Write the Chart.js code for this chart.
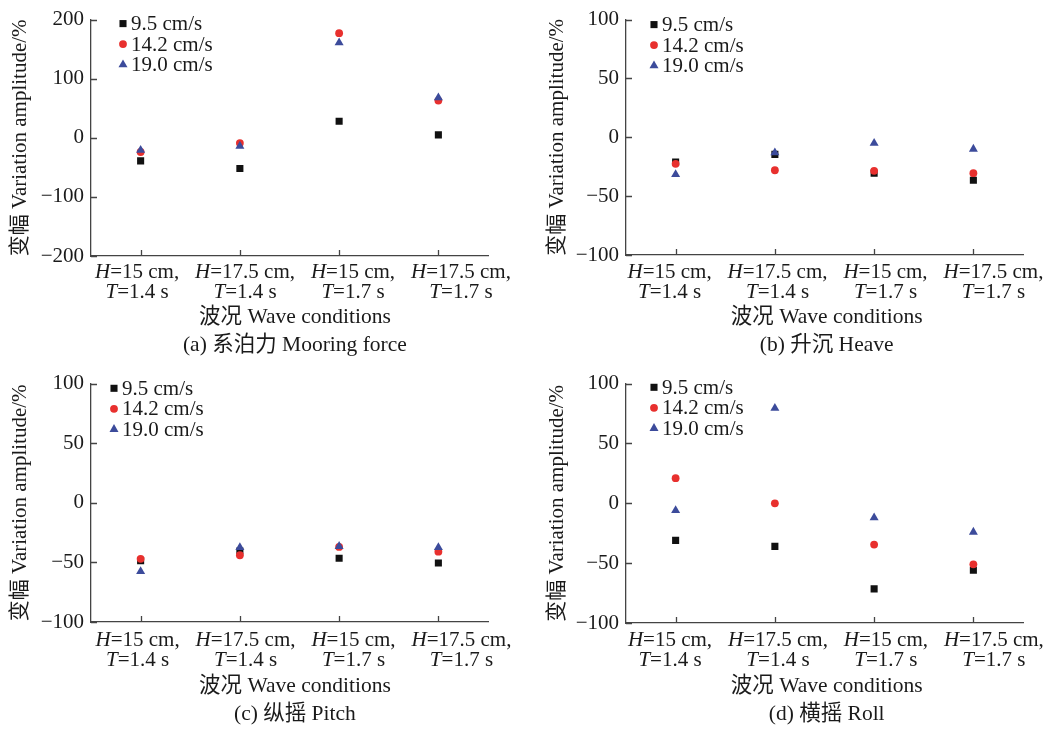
<!DOCTYPE html>
<html>
<head>
<meta charset="utf-8">
<script src="https://cdn.jsdelivr.net/npm/chart.js@4.4.1/dist/chart.umd.min.js"></script>
<style>
  html, body { margin: 0; padding: 0; background: #fff; }
  #wrap { position: relative; width: 1051px; height: 729px; }
  canvas { position: absolute; }
</style>
</head>
<body>
<div id="wrap">
  <canvas id="c0" width="525" height="364" style="left:0;top:0"></canvas>
  <canvas id="c1" width="526" height="364" style="left:525px;top:0"></canvas>
  <canvas id="c2" width="525" height="365" style="left:0;top:364px"></canvas>
  <canvas id="c3" width="526" height="365" style="left:525px;top:364px"></canvas>
</div>
<script>
// wave conditions (x categories)
const waveH = ['15', '17.5', '15', '17.5'];
const waveT = ['1.4', '1.4', '1.7', '1.7'];
const speeds = ['9.5 cm/s', '14.2 cm/s', '19.0 cm/s'];

// variation amplitude, %
const mooring95  = [-39, -52, 28, 5];
const mooring142 = [-24, -9, 177, 63];
const mooring190 = [-21, -14, 161, 68];

const heave95  = [-21, -14.5, -30.5, -36.5];
const heave142 = [-22.5, -28, -28.5, -30.5];
const heave190 = [-31.5, -13, -5, -10];

const pitch95  = [-48.5, -40.5, -46.5, -50.5];
const pitch142 = [-47, -44, -37, -41];
const pitch190 = [-57.5, -37.5, -36.5, -37.5];

const roll95  = [-31, -36, -71.5, -56];
const roll142 = [21, 0, -34.5, -51];
const roll190 = [-6, 79.5, -12, -24];

const captions = ['(a) 系泊力 Mooring force', '(b) 升沉 Heave', '(c) 纵摇 Pitch', '(d) 横摇 Roll'];
const yMins = [-200, -100, -100, -100];
const yMaxs = [200, 100, 100, 100];
const ySteps = [100, 50, 50, 50];

const xTitle = '波况 Wave conditions';
const yTitle = '变幅 Variation amplitude/%';

const categories = waveH.map((h, i) => ['H=' + h + ' cm,', 'T=' + waveT[i] + ' s']);

const FONT = "'Liberation Serif', 'Noto Sans CJK SC', serif";
const TEXT = '#1a1a1a';
const AXIS = '#444';
const COLORS = ['#111111', '#e8302e', '#3c4b9b'];
const STYLES = ['rect', 'circle', 'triangle'];
const RADII = [5, 3.9, 5.2];

// lead: small space so the centred axis title sits over the label block
const panels = [
  { id: 'c0', series: [mooring95, mooring142, mooring190], top: 15, right: 37, yw: 91, xh: 108, ytPad: 8,  lx: 32, ly: 4,   gap: 16.5, tb: 4, shift: -3.5, lead: '\u2002' },
  { id: 'c1', series: [heave95, heave142, heave190],       top: 14, right: 28, yw: 101, xh: 109, ytPad: 20, lx: 28, ly: 5,   gap: 17,   tb: 4, shift: -6,   lead: '\u2009' },
  { id: 'c2', series: [pitch95, pitch142, pitch190],       top: 18, right: 37, yw: 91, xh: 107, ytPad: 8,  lx: 23, ly: 4.7, gap: 18,   tb: 0, shift: -3,   lead: '\u2002' },
  { id: 'c3', series: [roll95, roll142, roll190],          top: 19, right: 28, yw: 101, xh: 106, ytPad: 20, lx: 28, ly: 3.7, gap: 17,   tb: 0, shift: -5.6, lead: '\u2009' }
];
const LABEL_SPREAD = 1.0876;

// inward tick marks, x labels with italic symbols, legend inside plot
const decor = {
  id: 'decor',
  afterDatasetsDraw(chart, args, opts) {
    const ctx = chart.ctx;
    const { left, top, bottom } = chart.chartArea;
    const xs = chart.scales.x, ys = chart.scales.y;
    ctx.save();
    ctx.strokeStyle = AXIS;
    ctx.lineWidth = 1.3;
    ctx.beginPath();
    ys.ticks.forEach(t => {
      const y = Math.round(ys.getPixelForValue(t.value)) + 0.5;
      ctx.moveTo(left, y); ctx.lineTo(left + 6, y);
    });
    xs.ticks.forEach(t => {
      const x = Math.round(xs.getPixelForValue(t.value)) + 0.5;
      ctx.moveTo(x, bottom); ctx.lineTo(x, bottom - 6);
    });
    ctx.stroke();

    ctx.fillStyle = TEXT;
    ctx.textBaseline = 'middle';
    ctx.textAlign = 'left';
    const upright = '21px ' + FONT, italic = 'italic 21px ' + FONT;
    const x0tick = xs.getPixelForValue(0);
    chart.data.labels.forEach((lines, i) => {
      const cx = x0tick + (xs.getPixelForValue(i) - x0tick) * LABEL_SPREAD + opts.shift;
      lines.forEach((line, k) => {
        const sym = line[0], rest = line.slice(1);
        ctx.font = italic;
        const w1 = ctx.measureText(sym).width;
        ctx.font = upright;
        const w2 = ctx.measureText(rest).width;
        const x0 = cx - (w1 + w2) / 2;
        const y = bottom + opts.gap + k * 20.3;
        ctx.font = italic;
        ctx.fillText(sym, x0, y);
        ctx.font = upright;
        ctx.fillText(rest, x0 + w1, y);
      });
    });

    chart.data.datasets.forEach((ds, i) => {
      const mx = left + opts.lx, my = top + opts.ly + i * 20.5;
      ctx.fillStyle = ds.backgroundColor;
      Chart.helpers.drawPoint(ctx, { pointStyle: ds.pointStyle, radius: ds.pointRadius, rotation: 0, borderWidth: 0 }, mx, my);
      ctx.fillStyle = TEXT;
      ctx.font = upright;
      ctx.fillText(ds.label, mx + 8, my + 1);
    });
    ctx.restore();
  }
};

const minus = v => (v < 0 ? '\u2212' + Math.abs(v) : String(v));

panels.forEach((p, n) => {
  new Chart(document.getElementById(p.id), {
    type: 'line',
    data: {
      labels: categories,
      datasets: p.series.map((vals, i) => ({
        label: speeds[i],
        data: vals,
        showLine: false,
        pointStyle: STYLES[i],
        pointRadius: RADII[i],
        pointBorderWidth: 0,
        backgroundColor: COLORS[i],
        borderColor: COLORS[i],
        order: 3 - i
      }))
    },
    options: {
      responsive: false,
      animation: false,
      events: [],
      layout: { padding: { left: 0, top: p.top, right: p.right, bottom: 0 } },
      plugins: {
        legend: { display: false },
        tooltip: { enabled: false },
        decor: { lx: p.lx, ly: p.ly, gap: p.gap, shift: p.shift }
      },
      scales: {
        x: {
          type: 'category',
          offset: true,
          grid: { display: false, drawTicks: false },
          border: { display: true, color: AXIS, width: 1.3 },
          ticks: { display: false },
          title: {
            display: true,
            text: [p.lead + xTitle, p.lead + captions[n]],
            color: TEXT,
            font: { family: FONT, size: 21.5, lineHeight: 1.32 },
            padding: { top: 0, bottom: p.tb }
          },
          afterFit: s => { s.height = p.xh; }
        },
        y: {
          min: yMins[n],
          max: yMaxs[n],
          grid: { display: false, drawTicks: false },
          border: { display: true, color: AXIS, width: 1.3 },
          ticks: {
            stepSize: ySteps[n],
            padding: 7,
            color: TEXT,
            font: { family: FONT, size: 21 },
            callback: minus
          },
          title: {
            display: true,
            text: yTitle,
            color: TEXT,
            font: { family: FONT, size: 21, lineHeight: 1.2 },
            padding: { top: p.ytPad, bottom: 0 }
          },
          afterFit: s => { s.width = p.yw; }
        }
      }
    },
    plugins: [decor]
  });
});
</script>
</body>
</html>
